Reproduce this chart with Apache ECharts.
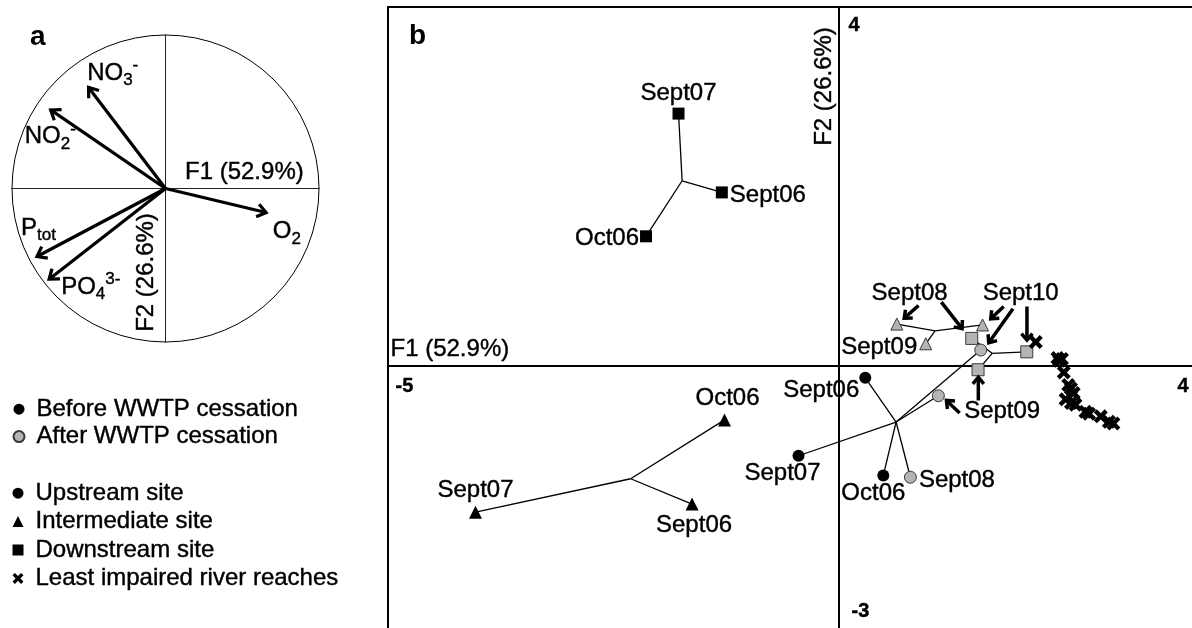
<!DOCTYPE html>
<html>
<head>
<meta charset="utf-8">
<script src="https://cdn.jsdelivr.net/npm/echarts@6/dist/echarts.min.js"></script>
<style>
html,body{margin:0;padding:0;background:#fff;}
#chart{width:1192px;height:628px;}
</style>
</head>
<body>
<div id="chart"></div>
<script>
// ---------------- DATA ----------------
// Panel a: loadings of the variables on F1 / F2
const loadLabels = ['{m|NO}{sb|3}{sp|-}', '{m|NO}{sb|2}{sp|-}', '{m|O}{sb|2}', '{m|P}{sb|tot}', '{m|PO}{sb|4}{sp|3-}'];
const loadF1 = [-0.51, -0.76, 0.67, -0.85, -0.77];
const loadF2 = [0.67, 0.52, -0.16, -0.45, -0.60];

// Panel b: sample scores
const upDates  = ['Sept06', 'Sept07', 'Oct06', 'Sept08', 'Sept09', 'Sept10'];
const upPeriod = ['before', 'before', 'before', 'after', 'after', 'after'];
const upF1 = [0.29, -0.45, 0.49, 0.79, 1.10, 1.57];
const upF2 = [-0.14, -1.01, -1.23, -1.25, -0.34, 0.17];

const intBeforeDates = ['Oct06', 'Sept06', 'Sept07'];
const intBeforeF1 = [-1.27, -1.63, -4.03];
const intBeforeF2 = [-0.61, -1.55, -1.64];
const intAfterDates = ['Sept08', 'Sept09', 'Sept10'];
const intAfterF1 = [0.64, 0.96, 1.59];
const intAfterF2 = [0.46, 0.24, 0.45];

const downBeforeDates = ['Sept07', 'Sept06', 'Oct06'];
const downBeforeF1 = [-1.78, -1.30, -2.14];
const downBeforeF2 = [2.81, 1.93, 1.44];
const downAfterDates = ['Sept08', 'Sept09', 'Sept10'];
const downAfterF1 = [1.47, 1.54, 2.08];
const downAfterF2 = [0.30, -0.05, 0.15];

const refF1 = [2.18, 2.42, 2.47, 2.44, 2.49, 2.54, 2.57, 2.60, 2.51, 2.57, 2.62, 2.73, 2.77, 2.90, 2.99, 3.04];
const refF2 = [0.26, 0.08, 0.07, 0.05, -0.08, -0.22, -0.26, -0.31, -0.38, -0.42, -0.44, -0.52, -0.54, -0.57, -0.63, -0.65];

// Annotation notes and arrows (panel b)
const noteTexts = ['Sept08', 'Sept10', 'Sept09'];
const noteF1 = [0.787, 2.018, 1.813];
const noteF2 = [0.798, 0.798, -0.519];
const arrowTailF1 = [0.881, 1.133, 1.824, 1.927, 2.082, 1.543, 1.336];
const arrowTailF2 = [0.667, 0.705, 0.656, 0.631, 0.656, -0.393, -0.533];
const arrowTipF1  = [0.701, 1.380, 1.661, 1.643, 2.082, 1.543, 1.170];
const arrowTipF2  = [0.508, 0.388, 0.500, 0.229, 0.254, -0.106, -0.374];

// Axis texts
const axisTitles = ['F1 (52.9%)', 'F2 (26.6%)'];
const tickTexts = ['-5', '4', '4', '-3'];
const panelLetters = ['a', 'b'];
const legendPeriod = ['Before WWTP cessation', 'After WWTP cessation'];
const legendSite = ['Upstream site', 'Intermediate site', 'Downstream site', 'Least impaired river reaches'];

// ---------------- STYLE ----------------
const FONT = '"Liberation Sans", Arial, Helvetica, sans-serif';
const GREY = '#b4b4b4';
const GREY_EDGE = '#3a3a3a';
const CROSS = 'path://M0,2.2 L2.2,0 L5,2.8 L7.8,0 L10,2.2 L7.2,5 L10,7.8 L7.8,10 L5,7.2 L2.2,10 L0,7.8 L2.8,5 Z';
const F1_MIN = -5, F1_MAX = 4, F2_MIN = -3, F2_MAX = 4;
const FS = 24;
const INK = {color: '#000', textBorderColor: '#000', textBorderWidth: 0.4};
const BLACK_ITEM = {color: '#000', opacity: 1};
const GREY_ITEM = {color: GREY, borderColor: GREY_EDGE, borderWidth: 1, opacity: 1};

const labelPlace = {
  'down-before': {
    Sept07: {position: 'top', distance: 2},
    Sept06: {position: 'right', distance: 2, offset: [0, 3]},
    Oct06: {position: 'left', distance: 1, offset: [0, 2]}
  },
  'int-before': {
    Oct06: {position: 'top', distance: 3, offset: [3, 0]},
    Sept06: {position: 'bottom', distance: 3, offset: [2, 0]},
    Sept07: {position: 'top', distance: 3}
  },
  'up': {
    Sept06: {position: 'left', distance: 0, offset: [0, 13]},
    Sept07: {position: 'bottom', distance: 0, offset: [-16, 0]},
    Oct06: {position: 'bottom', distance: 0, offset: [-10, 0]},
    Sept08: {position: 'right', distance: 2, offset: [0, 3]}
  },
  'int-after': {
    Sept09: {position: 'left', distance: 2, offset: [0, 4]}
  }
};
const loadLabelPos = [[26, -12], [2, 28.5], [19, 19], [4, -29], [44, 7]];

function points(xs, ys, names, key, filter) {
  const out = [];
  xs.forEach((x, i) => {
    if (filter && !filter(i)) return;
    const place = (labelPlace[key] || {})[names[i]];
    out.push({
      value: [x, ys[i]],
      name: names[i],
      label: place ? Object.assign({show: true}, place) : {show: false}
    });
  });
  return out;
}
function star(xs, ys) {
  const cx = xs.reduce((a, b) => a + b, 0) / xs.length;
  const cy = ys.reduce((a, b) => a + b, 0) / ys.length;
  return xs.map((x, i) => [cx, cy, x, ys[i]]);
}
function arrowShape(p0, p1, lw, hl, hw) {
  const dx = p1[0] - p0[0], dy = p1[1] - p0[1];
  const len = Math.hypot(dx, dy) || 1;
  const ux = dx / len, uy = dy / len, nx = -uy, ny = ux;
  const tip = [p1[0] - ux * lw * 0.7, p1[1] - uy * lw * 0.7];
  const back = [p1[0] - ux * hl, p1[1] - uy * hl];
  return {
    type: 'group',
    children: [
      {type: 'line', shape: {x1: p0[0], y1: p0[1], x2: tip[0], y2: tip[1]},
        style: {stroke: '#000', lineWidth: lw}},
      {type: 'polyline', shape: {points: [[back[0] + nx * hw, back[1] + ny * hw], tip, [back[0] - nx * hw, back[1] - ny * hw]]},
        style: {stroke: '#000', fill: null, lineWidth: lw, lineJoin: 'miter', lineCap: 'butt'}}
    ]
  };
}

const textOnly = {symbolSize: 1, itemStyle: {color: 'rgba(0,0,0,0)', opacity: 1}, silent: true};

const stars = [].concat(
  star(upF1, upF2),
  star(intBeforeF1, intBeforeF2),
  star(intAfterF1, intAfterF2),
  star(downBeforeF1, downBeforeF2),
  star(downAfterF1, downAfterF2)
);

const panelBTexts = [];
const tickAnchors = [[F1_MIN, 0], [F1_MAX, 0], [0, F2_MAX], [0, F2_MIN]];
const tickOffsets = [[8, 12], [-22, 12], [10, 9], [13, -32]];
tickTexts.forEach((t, i) => panelBTexts.push({
  value: tickAnchors[i],
  label: Object.assign({show: true, formatter: t, position: tickOffsets[i], fontWeight: 'bold', fontSize: 20, fontFamily: FONT}, INK)
}));
panelBTexts.push({value: [F1_MIN, 0], label: Object.assign({show: true, formatter: axisTitles[0], position: [3, -27], fontFamily: FONT, fontSize: FS}, INK)});
panelBTexts.push({value: [0, F2_MAX], label: Object.assign({show: true, formatter: axisTitles[1], position: [-14, 80], align: 'center', verticalAlign: 'middle', rotate: 90, fontFamily: FONT, fontSize: FS}, INK)});
noteTexts.forEach((t, i) => panelBTexts.push({
  value: [noteF1[i], noteF2[i]],
  label: Object.assign({show: true, formatter: t, position: [0, 0], align: 'center', verticalAlign: 'middle', fontFamily: FONT, fontSize: FS}, INK)
}));

const panelATexts = [];
loadLabels.forEach((t, i) => panelATexts.push({
  value: [loadF1[i], loadF2[i]],
  label: {show: true, formatter: t, position: loadLabelPos[i], align: 'center', verticalAlign: 'middle'}
}));
panelATexts.push({value: [0, 0], label: Object.assign({show: true, formatter: axisTitles[0], position: [20, -28], fontFamily: FONT, fontSize: FS}, INK)});
panelATexts.push({value: [0, 0], label: Object.assign({show: true, formatter: axisTitles[1], position: [-18.5, 84.5], align: 'center', verticalAlign: 'middle', rotate: 90, fontFamily: FONT, fontSize: FS}, INK)});

const richStyles = {
  m: Object.assign({fontSize: FS, fontFamily: FONT, lineHeight: 32}, INK),
  sb: Object.assign({fontSize: 17, fontFamily: FONT, lineHeight: 16, verticalAlign: 'bottom'}, INK),
  sp: Object.assign({fontSize: 17, fontFamily: FONT, lineHeight: 16, verticalAlign: 'top'}, INK)
};

function valueAxis(grid, min, max, lineColor, lineWidth) {
  return {
    type: 'value', gridIndex: grid, min: min, max: max,
    axisLine: {show: true, onZero: true, lineStyle: {color: lineColor, width: lineWidth}},
    axisTick: {show: false}, axisLabel: {show: false}, splitLine: {show: false}
  };
}

const scatterLabel = Object.assign({formatter: '{b}', fontFamily: FONT, fontSize: FS}, INK);
const legendText = Object.assign({fontFamily: FONT, fontSize: FS, lineHeight: 24, padding: [0, 0, 0, 7]}, INK);

const option = {
  animation: false,
  backgroundColor: '#fff',
  textStyle: {fontFamily: FONT},
  title: [
    {text: panelLetters[0], left: 30, top: 23, padding: 0, textStyle: {fontFamily: FONT, fontSize: 28, fontWeight: 'bold', color: '#000'}},
    {text: panelLetters[1], left: 409, top: 22, padding: 0, textStyle: {fontFamily: FONT, fontSize: 28, fontWeight: 'bold', color: '#000'}}
  ],
  legend: [
    {
      orient: 'vertical', left: 7.5, top: 392, itemWidth: 11, itemHeight: 11, itemGap: 3,
      selectedMode: false, textStyle: legendText,
      data: [{name: legendPeriod[0], icon: 'circle'}, {name: legendPeriod[1], icon: 'circle'}]
    },
    {
      orient: 'vertical', left: 7.5, top: 476, itemWidth: 11, itemHeight: 11, itemGap: 4,
      selectedMode: false, textStyle: legendText,
      data: [{name: legendSite[0], icon: 'circle'}, {name: legendSite[1], icon: 'triangle'},
             {name: legendSite[2], icon: 'rect'}, {name: legendSite[3], icon: CROSS}]
    }
  ],
  grid: [
    {left: 388, top: 7, width: 812, height: 627, show: true, borderColor: '#000', borderWidth: 2,
     backgroundColor: 'transparent', outerBoundsMode: 'none', containLabel: false},
    {left: 12, top: 35, width: 307, height: 307, show: false, outerBoundsMode: 'none', containLabel: false}
  ],
  xAxis: [valueAxis(0, F1_MIN, F1_MAX, '#000', 2), valueAxis(1, -1, 1, '#222', 1)],
  yAxis: [valueAxis(0, F2_MIN, F2_MAX, '#000', 2), valueAxis(1, -1, 1, '#222', 1)],
  series: [
    // ---- panel a ----
    {
      type: 'custom', xAxisIndex: 1, yAxisIndex: 1, silent: true, data: [[0, 0, 1]], encode: {x: 0, y: 1},
      renderItem: function (params, api) {
        const c = api.coord([api.value(0), api.value(1)]);
        const r = api.size([api.value(2), 0])[0];
        return {type: 'circle', shape: {cx: c[0], cy: c[1], r: r}, style: {fill: 'none', stroke: '#000', lineWidth: 1}};
      }
    },
    {
      type: 'custom', xAxisIndex: 1, yAxisIndex: 1, silent: true, z: 3,
      data: loadF1.map((x, i) => [0, 0, x, loadF2[i]]), encode: {x: [0, 2], y: [1, 3]},
      renderItem: function (params, api) {
        const p0 = api.coord([api.value(0), api.value(1)]);
        const p1 = api.coord([api.value(2), api.value(3)]);
        return arrowShape(p0, p1, 3.2, 11, 6.5);
      }
    },
    Object.assign({type: 'scatter', xAxisIndex: 1, yAxisIndex: 1, z: 5, data: panelATexts,
      label: Object.assign({show: true, rich: richStyles, fontFamily: FONT, fontSize: FS}, INK)}, textOnly),

    // ---- panel b ----
    {
      type: 'custom', xAxisIndex: 0, yAxisIndex: 0, silent: true, z: 2,
      data: stars, encode: {x: [0, 2], y: [1, 3]},
      renderItem: function (params, api) {
        const p0 = api.coord([api.value(0), api.value(1)]);
        const p1 = api.coord([api.value(2), api.value(3)]);
        return {type: 'line', shape: {x1: p0[0], y1: p0[1], x2: p1[0], y2: p1[1]}, style: {stroke: '#000', lineWidth: 1.3}};
      }
    },
    {
      type: 'custom', xAxisIndex: 0, yAxisIndex: 0, silent: true, z: 6,
      data: arrowTailF1.map((x, i) => [x, arrowTailF2[i], arrowTipF1[i], arrowTipF2[i]]), encode: {x: [0, 2], y: [1, 3]},
      renderItem: function (params, api) {
        const p0 = api.coord([api.value(0), api.value(1)]);
        const p1 = api.coord([api.value(2), api.value(3)]);
        return arrowShape(p0, p1, 3.5, 9, 5.5);
      }
    },
    {type: 'scatter', name: 'up-before', z: 4, symbol: 'circle', symbolSize: 12, itemStyle: BLACK_ITEM, label: scatterLabel,
      data: points(upF1, upF2, upDates, 'up', i => upPeriod[i] === 'before')},
    {type: 'scatter', name: 'up-after', z: 4, symbol: 'circle', symbolSize: 12, itemStyle: GREY_ITEM, label: scatterLabel,
      data: points(upF1, upF2, upDates, 'up', i => upPeriod[i] === 'after')},
    {type: 'scatter', name: 'int-before', z: 4, symbol: 'triangle', symbolSize: 13, itemStyle: BLACK_ITEM, label: scatterLabel,
      data: points(intBeforeF1, intBeforeF2, intBeforeDates, 'int-before')},
    {type: 'scatter', name: 'int-after', z: 4, symbol: 'triangle', symbolSize: 12, itemStyle: GREY_ITEM, label: scatterLabel,
      data: points(intAfterF1, intAfterF2, intAfterDates, 'int-after')},
    {type: 'scatter', name: 'down-before', z: 4, symbol: 'rect', symbolSize: 12, itemStyle: BLACK_ITEM, label: scatterLabel,
      data: points(downBeforeF1, downBeforeF2, downBeforeDates, 'down-before')},
    {type: 'scatter', name: 'down-after', z: 4, symbol: 'rect', symbolSize: 12, itemStyle: GREY_ITEM, label: scatterLabel,
      data: points(downAfterF1, downAfterF2, downAfterDates, 'down-after')},
    {type: 'scatter', name: legendSite[3], z: 4, symbol: CROSS, symbolSize: 14, itemStyle: BLACK_ITEM,
      data: refF1.map((x, i) => [x, refF2[i]])},
    Object.assign({type: 'scatter', xAxisIndex: 0, yAxisIndex: 0, z: 7, data: panelBTexts, label: Object.assign({show: true}, INK)}, textOnly),

    // ---- legend-only series ----
    {type: 'scatter', name: legendPeriod[0], symbol: 'circle', itemStyle: BLACK_ITEM, data: []},
    {type: 'scatter', name: legendPeriod[1], symbol: 'circle', itemStyle: GREY_ITEM, data: []},
    {type: 'scatter', name: legendSite[0], symbol: 'circle', itemStyle: BLACK_ITEM, data: []},
    {type: 'scatter', name: legendSite[1], symbol: 'triangle', itemStyle: BLACK_ITEM, data: []},
    {type: 'scatter', name: legendSite[2], symbol: 'rect', itemStyle: BLACK_ITEM, data: []}
  ]
};

const chart = echarts.init(document.getElementById('chart'), null, {renderer: 'canvas'});
chart.setOption(option);
</script>
</body>
</html>
